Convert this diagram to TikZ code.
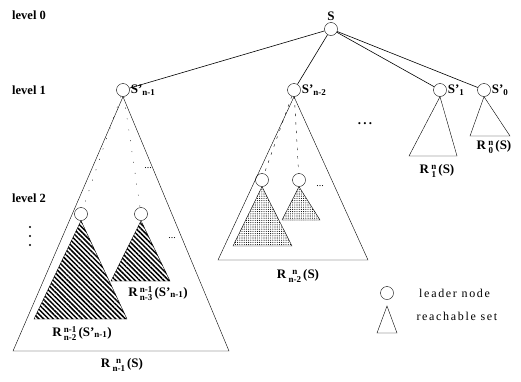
\documentclass[tikz,border=0pt]{standalone}
\usepackage{fontspec}
\setmainfont{Liberation Serif}
\usetikzlibrary{positioning,patterns,patterns.meta}
\tikzset{
  leader/.style={circle,draw,inner sep=0pt,minimum size=13pt},
  reach/.style={draw,thin},
  hatched/.style={draw,thin,pattern={Lines[angle=-45,distance=3.4pt,line width=1.5pt]}},
  dotty/.style={draw,thin,pattern={Dots[distance=2.2pt,radius=0.55pt]}},
  link/.style={semithick},
  guide/.style={dash pattern=on 1pt off 10pt},
  guidetwo/.style={dash pattern=on 2.5pt off 6pt},
  lvl/.style={font=\bfseries\fontsize{12.5}{14}\selectfont,anchor=west,inner sep=1pt},
  lbl/.style={font=\bfseries\fontsize{13}{15}\selectfont,inner sep=1pt},
  legend/.style={font=\fontsize{12}{14}\selectfont\addfontfeature{LetterSpace=14},anchor=west}}
\newcommand{\Sub}[1]{$_{\mbox{\fontsize{9}{10}\selectfont #1}}$}
\newcommand{\Rset}[3]{R\,\raisebox{-0.2ex}{\fontsize{9}{8.5}\selectfont
  \begin{tabular}{@{}c@{}}#1\\#2\end{tabular}}\,(#3)}

\begin{document}
\begin{tikzpicture}[x=1pt,y=-1pt]
  \useasboundingbox (0,0) rectangle (521,381);
  % levels
  \node[lvl] (lv0) at (11,15) {level 0};
  \node[lvl] (lv1) at (11,90) {level 1};
  \node[lvl] (lv2) at (11,198) {level 2};
  \foreach \y in {227,236,245} \fill (30,\y) circle (1.2pt);
  % leaders
  \node[leader] (s) at (331,29) {};
  \node[lbl,above=0pt of s] (sl) {S};
  \node[leader] (sn1) at (123,90) {};
  \node[lbl,right=0pt of sn1] (sn1l) {S'\Sub{n-1}};
  \node[leader] (sn2) at (294,90) {};
  \node[lbl,right=0pt of sn2] (sn2l) {S'\Sub{n-2}};
  \node[leader] (s1) at (440,90) {};
  \node[lbl,right=0pt of s1] (s1l) {S'\Sub{1}};
  \node[leader] (s0) at (484,90) {};
  \node[lbl,right=0pt of s0] (s0l) {S'\Sub{0}};
  \draw[link] (s) -- (sn1);
  \draw[link] (s) -- (sn2);
  \draw[link] (s) -- (s1);
  \draw[link] (s) -- (s0);
  \node[lbl] (gap) at (365,124) {.\,.\,.};
  % R^n_{n-1}
  \coordinate (a1) at (13,351);
  \coordinate (b1) at (229,351);
  \draw[reach] (sn1.south) -- (a1) -- (b1) -- cycle;
  \node[lbl] (r1) at (122,366) {\Rset{n}{n-1}{S}};
  \node[leader] (c1) at (81,214) {};
  \node[leader] (c2) at (141,214) {};
  \draw[guide] (sn1) -- (c1);
  \draw[guide] (sn1) -- (c2);
  \filldraw[hatched] (c2.south) -- (111,281) -- (170,281) -- cycle;
  \filldraw[hatched] (c1.south) -- (34,319) -- (127,319) -- cycle;
  \node[lbl] (r11) at (82,335) {\Rset{n-1}{n-2}{S'\Sub{n-1}}};
  \node[lbl] (r12) at (158,295) {\Rset{n-1}{n-3}{S'\Sub{n-1}}};
  \node (d1) at (148,168) {...};
  \node (d2) at (172,238) {...};
  % R^n_{n-2}
  \coordinate (a2) at (218,260);
  \coordinate (b2) at (368,260);
  \draw[reach] (sn2.south) -- (a2) -- (b2) -- cycle;
  \node[lbl] (r2) at (298,277) {\Rset{n}{n-2}{S}};
  \node[leader] (c3) at (262,180) {};
  \node[leader] (c4) at (299,180) {};
  \draw[guidetwo] (sn2) -- (c3);
  \draw[guidetwo] (sn2) -- (c4);
  \filldraw[dotty] (c3.south) -- (233,246) -- (292,246) -- cycle;
  \filldraw[dotty] (c4.south) -- (282,220) -- (320,220) -- cycle;
  \node (d3) at (320,186) {...};
  % R^n_1 and R^n_0
  \draw[reach] (s1.south) -- (409,156) -- (457,156) -- cycle;
  \node[lbl] (r3) at (437,172) {\Rset{n}{1}{S}};
  \draw[reach] (s0.south) -- (470,136) -- (510,136) -- cycle;
  \node[lbl] (r4) at (494,148) {\Rset{n}{0}{S}};
  % legend
  \node[leader] (kc) at (387,293) {};
  \node[legend,right=22pt of kc] (kcl) {leader node};
  \draw[reach] (387,306) -- (377,333) -- (397,333) -- cycle;
  \node[legend] (ktl) at (413,316) {reachable set};
\end{tikzpicture}
\end{document}
